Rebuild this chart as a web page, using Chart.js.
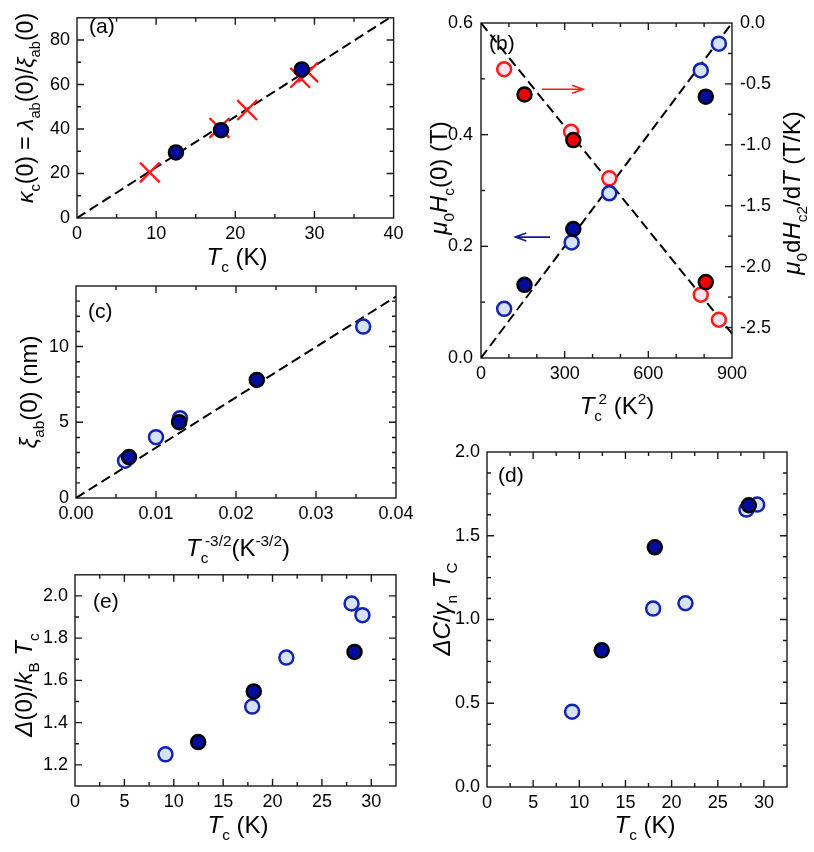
<!DOCTYPE html>
<html lang="en">
<head>
  <meta charset="UTF-8">
  <title>Superconducting parameters vs Tc</title>
</head>
<style>
  body { margin: 0; background: #fff; }
  #page { position: relative; width: 814px; height: 852px; overflow: hidden; background: #fff; }
  .panel { position: absolute; }
</style>
<body>
<div id="page">
  <div class="panel" id="boxA"><canvas id="chartA"></canvas></div>
  <div class="panel" id="boxB"><canvas id="chartB"></canvas></div>
  <div class="panel" id="boxC"><canvas id="chartC"></canvas></div>
  <div class="panel" id="boxE"><canvas id="chartE"></canvas></div>
  <div class="panel" id="boxD"><canvas id="chartD"></canvas></div>
</div>

<script src="https://cdn.jsdelivr.net/npm/chart.js"></script>

<script>
  // ---- data ----
  // (a) kappa_c(0) vs Tc
  const aTcFilled = [12.5, 18.2, 28.4];
  const aKappaFilled = [29.5, 39.5, 66.8];
  const aTcCross = [9.2, 18.0, 21.5, 28.2, 29.2];
  const aKappaCross = [20.5, 40.5, 48.5, 63.0, 65.5];
  const aFitX = [0, 39.5];
  const aFitY = [0, 90];
  const aXTicks = [0, 10, 20, 30, 40];
  const aYTicks = [0, 20, 40, 60, 80];

  // (b) mu0 Hc(0) (left axis) and mu0 dHc2/dT (right axis) vs Tc^2
  const bT2Filled = [156, 331, 806];
  const bHcFilled = [0.131, 0.231, 0.468];
  const bT2Open = [83, 325, 460, 788, 853];
  const bHcOpen = [0.088, 0.207, 0.295, 0.515, 0.563];
  const bT2RedFilled = [156, 331, 806];
  const bSlopeFilled = [-0.587, -0.961, -2.127];
  const bT2RedOpen = [83, 323, 460, 788, 853];
  const bSlopeOpen = [-0.38, -0.893, -1.275, -2.231, -2.436];
  const bFitHcX = [0, 900];
  const bFitHcY = [0, 0.6];
  const bFitSlopeX = [0, 900];
  const bFitSlopeY = [0, -2.55];
  const bXTicks = [0, 300, 600, 900];
  const bYTicks = [0, 0.2, 0.4, 0.6];
  const bY2Ticks = [0, -0.5, -1.0, -1.5, -2.0, -2.5];

  // (c) xi_ab(0) vs Tc^-3/2
  const cXFilled = [0.00663, 0.01289, 0.0226];
  const cXiFilled = [2.70, 5.01, 7.80];
  const cXOpen = [0.00613, 0.0100, 0.0130, 0.0359];
  const cXiOpen = [2.46, 4.02, 5.27, 11.32];
  const cFitX = [0, 0.04];
  const cFitY = [0, 13.3];
  const cXTicks = [0, 0.01, 0.02, 0.03, 0.04];
  const cYTicks = [0, 5, 10];

  // (d) Delta C / gamma_n Tc vs Tc
  const dTcFilled = [12.43, 18.18, 28.37];
  const dJumpFilled = [0.816, 1.431, 1.682];
  const dTcOpen = [9.22, 18.0, 21.5, 28.1, 29.27];
  const dJumpOpen = [0.450, 1.065, 1.097, 1.656, 1.686];
  const dXTicks = [0, 5, 10, 15, 20, 25, 30];
  const dYTicks = [0, 0.5, 1.0, 1.5, 2.0];

  // (e) Delta(0)/kB Tc vs Tc
  const eTcFilled = [12.47, 18.1, 28.3];
  const eGapFilled = [1.308, 1.548, 1.735];
  const eTcOpen = [9.16, 17.94, 21.4, 28.0, 29.1];
  const eGapOpen = [1.250, 1.476, 1.708, 1.964, 1.909];
  const eXTicks = [0, 5, 10, 15, 20, 25, 30];
  const eYTicks = [1.2, 1.4, 1.6, 1.8, 2.0];

  // ---- styling ----
  const FONT = "'Liberation Sans', Arial, Helvetica, sans-serif";
  const NAVY = '#000c9c';
  const LIGHT = '#d7e2f6';
  const BLUE_EDGE = '#1223b4';
  const RED = '#ff1a1a';
  const PINK = '#fde2ef';
  const RED_FILL = '#ee0000';

  function pts(xs, ys) {
    return xs.map((x, i) => ({x: x, y: ys[i]}));
  }

  function marks(xs, ys, fill, edge, extra) {
    return Object.assign({
      data: pts(xs, ys),
      backgroundColor: fill,
      borderColor: edge,
      pointBackgroundColor: fill,
      pointBorderColor: edge,
      pointBorderWidth: 2.5,
      pointRadius: 7,
      pointHoverRadius: 7,
      showLine: false
    }, extra || {});
  }

  function fitLine(xs, ys, axisId) {
    return {
      type: 'line',
      data: pts(xs, ys),
      yAxisID: axisId || 'y',
      borderColor: '#000',
      borderWidth: 2,
      borderDash: [10, 5],
      pointRadius: 0,
      fill: false,
      tension: 0,
      order: 20
    };
  }

  function axis(pos, min, max, tickVals, size, fmt, pad) {
    return {
      type: 'linear',
      position: pos,
      min: min,
      max: max,
      grid: {display: false, drawTicks: false},
      border: {display: false},
      afterBuildTicks: s => { s.ticks = tickVals.map(v => ({value: v})); },
      ticks: {
        autoSkip: false,
        maxRotation: 0,
        padding: pad,
        color: '#000',
        font: {family: FONT, size: 18},
        callback: v => fmt(v)
      },
      afterFit: s => {
        if (pos === 'bottom') s.height = size; else s.width = size;
      }
    };
  }

  // text with italics, subscripts and superscripts
  function drawRich(ctx, segs, x, y, size, rotate) {
    const parts = segs.map(s => {
      const st = s[1] || '';
      const small = st.includes('sub') || st.includes('sup');
      const fs = small ? size * 0.64 : size;
      const font = (st.includes('i') ? 'italic ' : '') + fs + 'px ' + FONT;
      ctx.font = font;
      let dy = 0;
      if (st.includes('sub')) dy = size * 0.3;
      if (st.includes('sup')) dy = -size * 0.42;
      const adv = st.includes('k') ? 0 : ctx.measureText(s[0]).width;
      return {t: s[0], font: font, dy: dy, adv: adv};
    });
    const w = parts.reduce((a, p) => a + p.adv, 0);
    ctx.save();
    ctx.translate(x, y);
    if (rotate) ctx.rotate(-Math.PI / 2);
    ctx.fillStyle = '#000';
    ctx.textAlign = 'left';
    ctx.textBaseline = 'alphabetic';
    let cx = -w / 2;
    parts.forEach(p => {
      ctx.font = p.font;
      ctx.fillText(p.t, cx, p.dy);
      cx += p.adv;
    });
    ctx.restore();
  }

  // frame, inward ticks, panel letter, axis titles, arrows
  function decorate(cfg) {
    return {
      id: 'decorate',
      beforeDatasetsDraw(chart) {
        const ctx = chart.ctx;
        const ca = chart.chartArea;
        ctx.save();
        ctx.strokeStyle = '#1a1a1a';
        ctx.lineWidth = 1.4;
        ctx.strokeRect(ca.left, ca.top, ca.right - ca.left, ca.bottom - ca.top);
        cfg.ticks.forEach(t => {
          const sc = chart.scales[t.scale];
          const first = Math.ceil(sc.min / t.minor - 1e-9);
          const last = Math.floor(sc.max / t.minor + 1e-9);
          for (let i = first; i <= last; i++) {
            const v = i * t.minor;
            if (Math.abs(v - sc.min) < 1e-9 || Math.abs(v - sc.max) < 1e-9) continue;
            const q = v / t.major;
            const len = Math.abs(q - Math.round(q)) < 1e-6 ? 7 : 4;
            const p = sc.getPixelForValue(v);
            ctx.beginPath();
            t.sides.forEach(side => {
              if (side === 'bottom') { ctx.moveTo(p, ca.bottom); ctx.lineTo(p, ca.bottom - len); }
              if (side === 'top') { ctx.moveTo(p, ca.top); ctx.lineTo(p, ca.top + len); }
              if (side === 'left') { ctx.moveTo(ca.left, p); ctx.lineTo(ca.left + len, p); }
              if (side === 'right') { ctx.moveTo(ca.right, p); ctx.lineTo(ca.right - len, p); }
            });
            ctx.stroke();
          }
        });
        ctx.restore();
      },
      afterDraw(chart) {
        const ctx = chart.ctx;
        const ox = cfg.box[0], oy = cfg.box[1];
        ctx.save();
        ctx.fillStyle = '#000';
        ctx.font = '21px ' + FONT;
        ctx.textAlign = 'left';
        ctx.fillText(cfg.letter[0], cfg.letter[1] - ox, cfg.letter[2] - oy);
        ctx.restore();
        cfg.titles.forEach(t => drawRich(ctx, t.segs, t.x - ox, t.y - oy, t.size, t.rot));
        (cfg.arrows || []).forEach(a => {
          const xs = chart.scales.x, ys = chart.scales[a.axis];
          const x0 = xs.getPixelForValue(a.x0), x1 = xs.getPixelForValue(a.x1);
          const y = ys.getPixelForValue(a.y);
          const dir = Math.sign(x1 - x0);
          ctx.save();
          ctx.strokeStyle = a.color;
          ctx.lineWidth = 1.6;
          ctx.beginPath();
          ctx.moveTo(x0, y); ctx.lineTo(x1, y);
          ctx.moveTo(x1 - dir * 11, y - 4); ctx.lineTo(x1, y); ctx.lineTo(x1 - dir * 11, y + 4);
          ctx.stroke();
          ctx.restore();
        });
      }
    };
  }

  function makeChart(id, box, plot, scales, datasets, deco) {
    const holder = document.getElementById(id).parentElement;
    holder.style.left = box[0] + 'px';
    holder.style.top = box[1] + 'px';
    const cv = document.getElementById(id);
    cv.width = box[2];
    cv.height = box[3];
    deco.box = box;
    const hasRight = !!scales.y2;
    const padRight = hasRight ? 0 : (box[0] + box[2]) - plot[2];
    return new Chart(cv.getContext('2d'), {
      type: 'scatter',
      data: {datasets: datasets},
      options: {
        responsive: false,
        animation: false,
        events: [],
        layout: {padding: {top: plot[1] - box[1], right: padRight, left: 0, bottom: 0}},
        plugins: {legend: {display: false}, tooltip: {enabled: false}},
        scales: scales
      },
      plugins: [decorate(deco)]
    });
  }

  const f0 = v => String(v);
  const f1 = v => v.toFixed(1);
  const f2 = v => v.toFixed(2);

  // ---- (a) ----
  (function () {
    const box = [0, 0, 410, 275], plot = [77, 5, 397, 218];
    makeChart('chartA', box, plot, {
      x: axis('bottom', 0, 40, aXTicks, box[1] + box[3] - plot[3], f0, 5),
      y: axis('left', 0, 90, aYTicks, plot[0] - box[0], f0, 7)
    }, [
      marks(aTcFilled, aKappaFilled, NAVY, '#000', {order: 1}),
      marks(aTcCross, aKappaCross, RED, RED, {pointStyle: 'crossRot', pointRadius: 14, pointHoverRadius: 14, pointBorderWidth: 2.4, order: 2}),
      fitLine(aFitX, aFitY)
    ], {
      letter: ['(a)', 89, 33],
      ticks: [
        {scale: 'x', minor: 5, major: 10, sides: ['bottom', 'top']},
        {scale: 'y', minor: 10, major: 20, sides: ['left', 'right']}
      ],
      titles: [
        {segs: [['T', 'i'], ['c', 'sub'], [' (K)', '']], x: 237, y: 265, size: 24},
        {segs: [['κ', 'i'], ['c', 'sub'], ['(0) = ', ''], ['λ', 'i'], ['ab', 'sub'], ['(0)/', ''], ['ξ', 'i'], ['ab', 'sub'], ['(0)', '']], x: 33, y: 108, size: 23, rot: true}
      ]
    });
  })();

  // ---- (b) ----
  (function () {
    const box = [410, 0, 404, 430], plot = [481, 23, 732, 358];
    makeChart('chartB', box, plot, {
      x: axis('bottom', 0, 900, bXTicks, box[1] + box[3] - plot[3], f0, 5),
      y: axis('left', 0, 0.6, bYTicks, plot[0] - box[0], f1, 8),
      y2: axis('right', -2.75, 0, bY2Ticks, box[0] + box[2] - plot[2], f1, 8)
    }, [
      marks(bT2Filled, bHcFilled, NAVY, '#000', {order: 1}),
      marks(bT2RedFilled, bSlopeFilled, RED_FILL, '#000', {yAxisID: 'y2', order: 2}),
      marks(bT2Open, bHcOpen, LIGHT, BLUE_EDGE, {order: 3}),
      marks(bT2RedOpen, bSlopeOpen, PINK, RED, {yAxisID: 'y2', order: 4}),
      fitLine(bFitHcX, bFitHcY, 'y'),
      fitLine(bFitSlopeX, bFitSlopeY, 'y2')
    ], {
      letter: ['(b)', 489, 50],
      ticks: [
        {scale: 'x', minor: 100, major: 300, sides: ['bottom', 'top']},
        {scale: 'y', minor: 0.1, major: 0.2, sides: ['left']},
        {scale: 'y2', minor: 0.25, major: 0.5, sides: ['right']}
      ],
      arrows: [
        {x0: 219, x1: 366, y: -0.544, axis: 'y2', color: RED},
        {x0: 248, x1: 123, y: 0.2165, axis: 'y', color: '#141a8c'}
      ],
      titles: [
        {segs: [['T', 'i'], ['c', 'sub k'], [' 2', 'sup'], [' (K', ''], ['2', 'sup'], [')', '']], x: 617, y: 414, size: 24},
        {segs: [['μ', 'i'], ['0', 'sub'], ['H', 'i'], ['c', 'sub'], ['(0) (T)', '']], x: 447, y: 178, size: 24, rot: true},
        {segs: [['μ', 'i'], ['0', 'sub'], ['d', ''], ['H', 'i'], ['c2', 'sub'], ['/d', ''], ['T', 'i'], [' (T/K)', '']], x: 800, y: 193, size: 24, rot: true}
      ]
    });
  })();

  // ---- (c) ----
  (function () {
    const box = [0, 262, 430, 305], plot = [76, 286, 396, 498];
    makeChart('chartC', box, plot, {
      x: axis('bottom', 0, 0.04, cXTicks, box[1] + box[3] - plot[3], f2, 5),
      y: axis('left', 0, 14, cYTicks, plot[0] - box[0], f0, 7)
    }, [
      marks(cXFilled, cXiFilled, NAVY, '#000', {order: 1}),
      marks(cXOpen, cXiOpen, LIGHT, BLUE_EDGE, {order: 2}),
      fitLine(cFitX, cFitY)
    ], {
      letter: ['(c)', 88, 318],
      ticks: [
        {scale: 'x', minor: 0.005, major: 0.01, sides: ['bottom', 'top']},
        {scale: 'y', minor: 1, major: 5, sides: ['left', 'right']}
      ],
      titles: [
        {segs: [['T', 'i'], ['c', 'sub k'], [' -3/2', 'sup'], ['(K', ''], ['-3/2', 'sup'], [')', '']], x: 238, y: 556, size: 24},
        {segs: [['ξ', 'i'], ['ab', 'sub'], ['(0) (nm)', '']], x: 37, y: 392, size: 24, rot: true}
      ]
    });
  })();

  // ---- (e) ----
  (function () {
    const box = [0, 557, 410, 295], plot = [75, 573, 396, 786];
    makeChart('chartE', box, plot, {
      x: axis('bottom', 0, 32.5, eXTicks, box[1] + box[3] - plot[3], f0, 5),
      y: axis('left', 1.1, 2.1, eYTicks, plot[0] - box[0], f1, 7)
    }, [
      marks(eTcFilled, eGapFilled, NAVY, '#000', {order: 1}),
      marks(eTcOpen, eGapOpen, LIGHT, BLUE_EDGE, {order: 2})
    ], {
      letter: ['(e)', 93, 608],
      ticks: [
        {scale: 'x', minor: 2.5, major: 5, sides: ['bottom', 'top']},
        {scale: 'y', minor: 0.1, major: 0.2, sides: ['left', 'right']}
      ],
      titles: [
        {segs: [['T', 'i'], ['c', 'sub'], [' (K)', '']], x: 238, y: 833, size: 24},
        {segs: [['Δ', 'i'], ['(0)/', ''], ['k', 'i'], ['B', 'sub'], [' ', ''], ['T', 'i'], ['c', 'sub']], x: 32, y: 685, size: 24, rot: true}
      ]
    });
  })();

  // ---- (d) ----
  (function () {
    const box = [410, 420, 404, 432], plot = [487, 452, 787, 787];
    makeChart('chartD', box, plot, {
      x: axis('bottom', 0, 32.5, dXTicks, box[1] + box[3] - plot[3], f0, 5),
      y: axis('left', 0, 2, dYTicks, plot[0] - box[0], f1, 7)
    }, [
      marks(dTcFilled, dJumpFilled, NAVY, '#000', {order: 1}),
      marks(dTcOpen, dJumpOpen, LIGHT, BLUE_EDGE, {order: 2})
    ], {
      letter: ['(d)', 498, 482],
      ticks: [
        {scale: 'x', minor: 2.5, major: 5, sides: ['bottom', 'top']},
        {scale: 'y', minor: 0.125, major: 0.5, sides: ['left', 'right']}
      ],
      titles: [
        {segs: [['T', 'i'], ['c', 'sub'], [' (K)', '']], x: 645, y: 833, size: 24},
        {segs: [['Δ', 'i'], ['C', 'i'], ['/', ''], ['γ', 'i'], ['n', 'sub'], [' ', ''], ['T', 'i'], ['C', 'sub']], x: 450, y: 609, size: 24, rot: true}
      ]
    });
  })();
</script>
</body>
</html>
